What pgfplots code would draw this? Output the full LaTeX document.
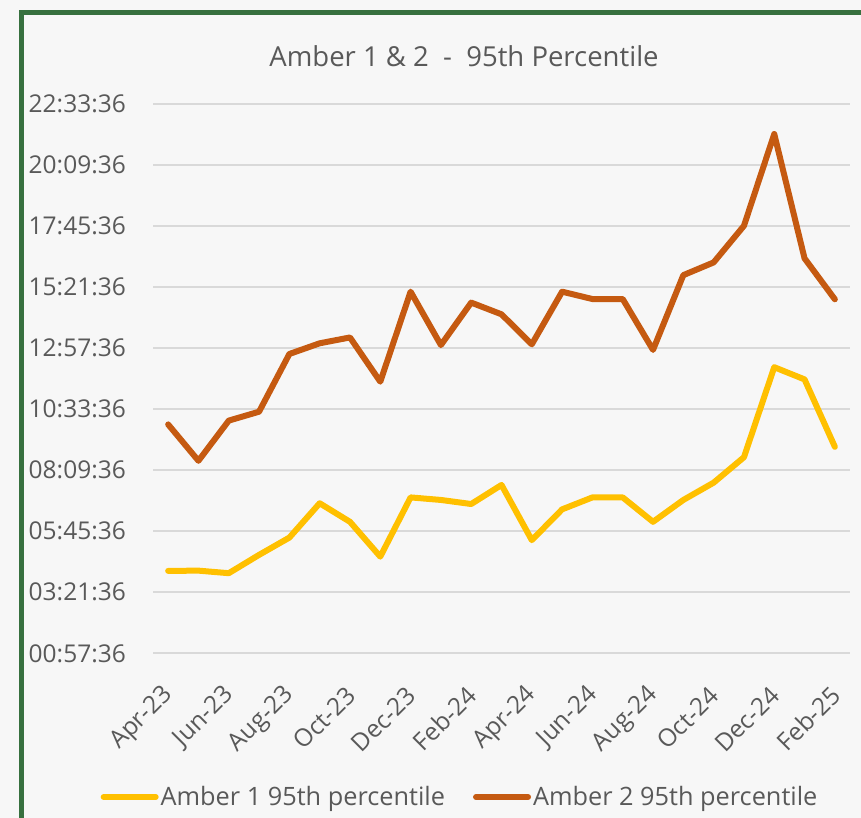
\documentclass[border=0pt]{standalone}
\usepackage{pgfplots}
\pgfplotsset{compat=1.18}
\usepackage{fontspec}
\setmainfont{Open Sans}
\definecolor{bg}{HTML}{F7F7F7}
\definecolor{frame}{HTML}{37703F}
\definecolor{txt}{HTML}{595959}
\definecolor{gridc}{HTML}{D9D9D9}
\definecolor{amberone}{HTML}{FFC000}
\definecolor{ambertwo}{HTML}{C55A11}
\newcommand{\chartfont}{\fontsize{24.5}{29}\selectfont}
\begin{document}
\begin{tikzpicture}
\path[use as bounding box] (0,0) rectangle (861pt,818pt);
\fill[bg] (0,0) rectangle (861pt,818pt);
\begin{axis}[
  at={(153pt,164.7pt)}, anchor=south west,
  width=697pt, height=549.3pt, scale only axis,
  xmin=-0.5, xmax=22.5, ymin=0.96, ymax=22.56,
  axis line style={draw=none},
  major tick length=0pt,
  ymajorgrids,
  grid style={gridc, line width=1.6pt},
  xtick={0,2,4,6,8,10,12,14,16,18,20,22},
  xticklabels={Apr-23,Jun-23,Aug-23,Oct-23,Dec-23,Feb-24,Apr-24,Jun-24,Aug-24,Oct-24,Dec-24,Feb-25},
  ytick={0.96,3.36,5.76,8.16,10.56,12.96,15.36,17.76,20.16,22.56},
  yticklabels={00:57:36,03:21:36,05:45:36,08:09:36,10:33:36,12:57:36,15:21:36,17:45:36,20:09:36,22:33:36},
  tick label style={font=\chartfont, text=txt},
  yticklabel style={anchor=east, inner sep=0pt, xshift=-27pt},
  xticklabel style={xshift=1pt, yshift=-38pt, rotate=45, anchor=east, inner sep=0pt},
  legend style={at={(0.4405,-0.2616)}, anchor=center, draw=none, fill=none,
    font=\fontsize{25.3}{30}\selectfont, text=txt, legend columns=2,
    /tikz/every even column/.append style={column sep=26pt}},
  legend image code/.code={\draw[#1, line width=6pt, line cap=round] (0pt,0pt) -- (52pt,0pt);},
  every axis plot/.append style={line width=6pt, line join=round, line cap=round, mark=none},
  clip=false,
]
\addplot[amberone] coordinates {
(0,4.20) (1,4.21) (2,4.11) (3,4.83) (4,5.51) (5,6.86) (6,6.13) (7,4.76)
(8,7.09) (9,6.99) (10,6.83) (11,7.58) (12,5.41) (13,6.62) (14,7.09) (15,7.09)
(16,6.13) (17,6.99) (18,7.67) (19,8.67) (20,12.21) (21,11.73) (22,9.08)};
\addlegendentry{Amber 1 95th percentile}
\addplot[ambertwo] coordinates {
(0,9.96) (1,8.53) (2,10.11) (3,10.46) (4,12.73) (5,13.15) (6,13.38) (7,11.64)
(8,15.18) (9,13.08) (10,14.75) (11,14.29) (12,13.11) (13,15.18) (14,14.89) (15,14.89)
(16,12.89) (17,15.83) (18,16.33) (19,17.77) (20,21.38) (21,16.49) (22,14.88)};
\addlegendentry{Amber 2 95th percentile}
\end{axis}
\node[font=\fontsize{27.5}{32}\selectfont, text=txt] at (464pt,762pt) {Amber 1 \& 2 \ - \ 95th Percentile};
\begin{scope}
\clip (0,0) rectangle (861pt,818pt);
\draw[frame, line width=5pt, line join=miter] (21.5pt,-10pt) -- (21.5pt,805pt) -- (870pt,805pt);
\end{scope}
\end{tikzpicture}
\end{document}
